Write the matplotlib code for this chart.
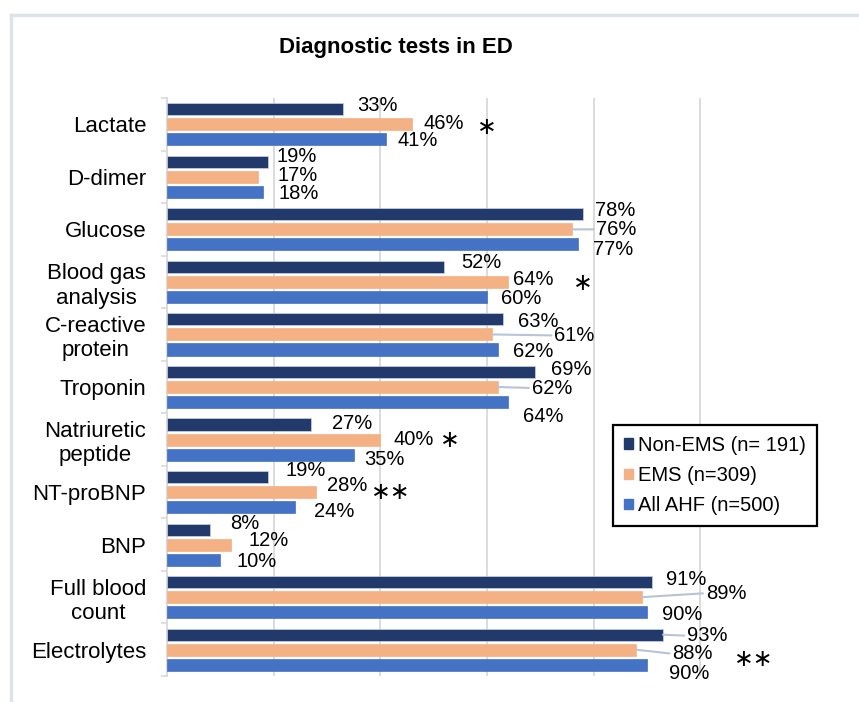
import numpy as np
import matplotlib
matplotlib.use('Agg')
import matplotlib.pyplot as plt
from matplotlib.patches import Patch
from matplotlib.lines import Line2D

plt.rcParams['font.family'] = ['Liberation Sans', 'DejaVu Sans']

# data
categories = ['Lactate', 'D-dimer', 'Glucose', 'Blood gas\nanalysis', 'C-reactive\nprotein',
              'Troponin', 'Natriuretic\npeptide', 'NT-proBNP', 'BNP', 'Full blood\ncount', 'Electrolytes']
non_ems = [33, 19, 78, 52, 63, 69, 27, 19, 8, 91, 93]
ems = [46, 17, 76, 64, 61, 62, 40, 28, 12, 89, 88]
all_ahf = [41, 18, 77, 60, 62, 64, 35, 24, 10, 90, 90]
series_names = ['Non-EMS (n= 191)', 'EMS (n=309)', 'All AHF (n=500)']
sig_marks = {0: '\u2217', 3: '\u2217', 6: '\u2217', 7: '\u2217\u2217', 10: '\u2217\u2217'}

colors = ['#213a6b', '#f4b183', '#4472c4']

# manual label nudges in pixels (dx right, dy down), per category per series
nudges = [
    [(14, -4), (11, -1), (12, 1)],
    [(8, -5), (20, -1), (15, 2)],
    [(12, -4), (24, 0), (15, 5)],
    [(17, -4), (5, -2), (14, 2)],
    [(15, 2), (62, 1), (15, 2)],
    [(16, -2), (34, 1), (15, 14)],
    [(21, -1), (13, 0), (11, 5)],
    [(17, -7), (11, -7), (19, 4)],
    [(20, -6), (17, -4), (16, 2)],
    [(14, -3), (64, -4), (15, 2)],
    [(24, 1), (36, 4), (22, 9)],
]
leaders = {(2, 1), (4, 1), (5, 1), (9, 1), (10, 0), (10, 1)}
# position of significance marks (x in axis units, dy in category units)
sig_pos = {0: (0.60, 0.05), 3: (0.78, 0.02), 6: (0.53, 0.0), 7: (0.42, 0.0), 10: (1.10, 0.17)}

fig = plt.figure(figsize=(8.59, 7.02), dpi=100)
ax = fig.add_axes([167 / 859, 26 / 702, 640 / 859, 578 / 702])

y = np.arange(len(categories))
step = 0.286
height = 0.23
vals = [non_ems, ems, all_ahf]
for k, v in enumerate(vals):
    frac = np.array(v) / 100
    ax.barh(y + (k - 1) * step, frac, height=height, color=colors[k], zorder=3,
            edgecolor='#c9d3e6' if k == 0 else colors[k], linewidth=0.5)

for i in range(len(categories)):
    for k, v in enumerate(vals):
        frac = v[i] / 100
        yy = y[i] + (k - 1) * step
        dx, dy = nudges[i][k]
        props = None
        if (i, k) in leaders:
            props = dict(arrowstyle='-', color='#b7c4d6', lw=1.5, shrinkA=0, shrinkB=0,
                         relpos=(0, 0.5))
        ax.annotate(f'{v[i]}%', xy=(frac, yy), xytext=(dx, -dy), textcoords='offset pixels',
                    ha='left', va='center', fontsize=14.5, color='black',
                    arrowprops=props, annotation_clip=False, zorder=4)

for i, mark in sig_marks.items():
    sx, sdy = sig_pos[i]
    ax.text(sx, y[i] + sdy, mark, ha='center', va='center', fontsize=17,
            family='DejaVu Sans', color='black')

ax.set_xlim(0, 1.2)
ax.set_ylim(len(categories) - 0.5, -0.5)
ax.set_xticks([0.2, 0.4, 0.6, 0.8, 1.0])
ax.set_xticklabels([])
ax.tick_params(axis='x', length=0)
ax.grid(axis='x', color='#d9d9d9', lw=1.3, zorder=0)
ax.set_yticks(y)
ax.set_yticklabels(categories, fontsize=16, multialignment='center')
ax.tick_params(axis='y', length=0, pad=15)
ax.set_yticks(np.arange(-0.5, len(categories), 1), minor=True)
ax.tick_params(axis='y', which='minor', length=4, color='#d9d9d9', width=1.2)
for s in ['top', 'right', 'bottom']:
    ax.spines[s].set_visible(False)
ax.spines['left'].set_color('#d9d9d9')
ax.spines['left'].set_linewidth(1.3)

fig.text(396 / 859, 1 - 47 / 702, 'Diagnostic tests in ED', ha='center', va='center',
         fontsize=16, fontweight='bold')

handles = [Patch(facecolor=c, edgecolor=c) for c in colors]
leg = fig.legend(handles, series_names, loc='upper left',
                 bbox_to_anchor=(613 / 859, 1 - 425 / 702), fontsize=14.5,
                 handlelength=0.45, handleheight=0.45, handletextpad=0.25,
                 labelspacing=0.55, borderpad=0.55, fancybox=False, framealpha=1,
                 edgecolor='black', borderaxespad=0)
leg.get_frame().set_linewidth(1.6)

# outer chart border
fig.add_artist(Line2D([11 / 859, 11 / 859], [0, 1 - 15 / 702], color='#dde3ea', lw=2.5,
                      transform=fig.transFigure))
fig.add_artist(Line2D([11 / 859, 1], [1 - 15 / 702, 1 - 15 / 702], color='#dde3ea', lw=2.5,
                      transform=fig.transFigure))

plt.savefig('out.png', dpi=100)
